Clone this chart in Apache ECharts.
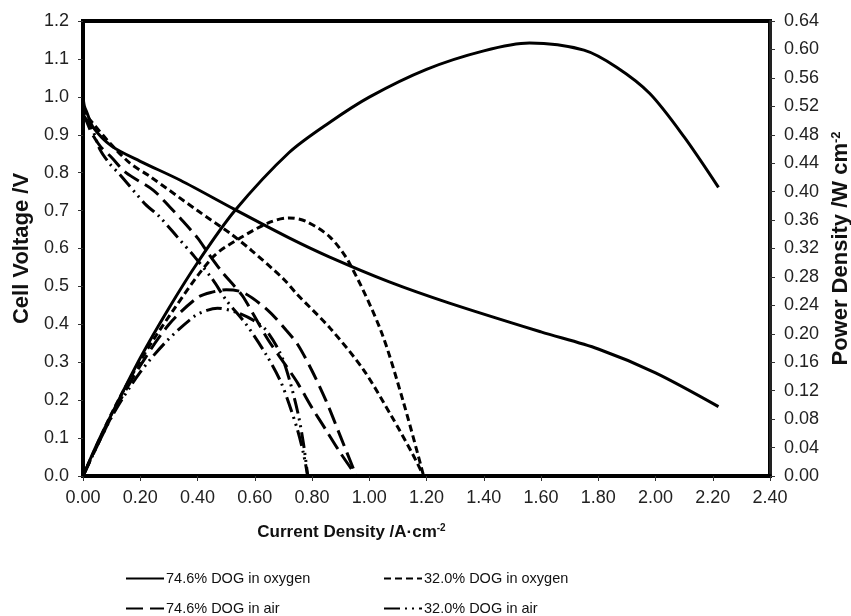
<!DOCTYPE html>
<html lang="en">
<head>
<meta charset="UTF-8">
<title>DOG fuel cell polarization</title>
<script src="https://cdn.jsdelivr.net/npm/echarts@6/dist/echarts.min.js"></script>
<style>
  html, body { margin: 0; padding: 0; background: #fff; }
  #main { width: 851px; height: 616px; }
</style>
</head>
<body>
<div id="main"></div>
<script>
// 74.6% DOG in oxygen
var o1J = [0, 0.005, 0.013, 0.035, 0.1, 0.2, 0.34, 0.53, 0.72, 0.86, 1.07, 1.28, 1.6, 1.8, 2.0, 2.22];
var o1V = [1.0, 0.975, 0.96, 0.92, 0.87, 0.83, 0.78, 0.703, 0.628, 0.578, 0.512, 0.456, 0.38, 0.335, 0.272, 0.183];
var o1PJ = [0, 0.05, 0.1, 0.2, 0.3, 0.4, 0.53, 0.72, 0.86, 1.0, 1.2, 1.4, 1.56, 1.75, 1.864, 1.98, 2.1, 2.22];
var o1P = [0, 0.046, 0.087, 0.166, 0.236, 0.30, 0.373, 0.455, 0.497, 0.533, 0.572, 0.598, 0.609, 0.599, 0.575, 0.538, 0.477, 0.406];

// 32.0% DOG in oxygen
var o2J = [0, 0.01, 0.024, 0.094, 0.164, 0.234, 0.4, 0.514, 0.587, 0.70, 0.747, 0.863, 0.98, 1.08, 1.15, 1.19];
var o2V = [0.97, 0.955, 0.94, 0.878, 0.825, 0.79, 0.70, 0.64, 0.596, 0.52, 0.48, 0.39, 0.28, 0.155, 0.06, 0];
var o2PJ = [0, 0.1, 0.2, 0.315, 0.454, 0.55, 0.653, 0.72, 0.78, 0.863, 0.93, 1.04, 1.12, 1.19];
var o2P = [0, 0.088, 0.162, 0.233, 0.308, 0.335, 0.357, 0.363, 0.358, 0.336, 0.30, 0.205, 0.103, 0];

// 74.6% DOG in air
var a1J = [0, 0.01, 0.03, 0.06, 0.1, 0.15, 0.245, 0.304, 0.34, 0.40, 0.437, 0.486, 0.53, 0.56, 0.646, 0.71, 0.75, 0.80, 0.85, 0.9, 0.955];
var a1V = [0.955, 0.94, 0.905, 0.87, 0.84, 0.80, 0.754, 0.709, 0.68, 0.628, 0.588, 0.538, 0.50, 0.472, 0.36, 0.29, 0.245, 0.18, 0.12, 0.06, 0];
var a1PJ = [0, 0.1, 0.2, 0.3, 0.4, 0.455, 0.5, 0.56, 0.646, 0.71, 0.75, 0.80, 0.85, 0.9, 0.955];
var a1P = [0, 0.084, 0.155, 0.213, 0.251, 0.259, 0.262, 0.258, 0.233, 0.205, 0.185, 0.148, 0.105, 0.055, 0];

// 32.0% DOG in air
var a2J = [0, 0.017, 0.035, 0.06, 0.094, 0.13, 0.22, 0.262, 0.33, 0.39, 0.454, 0.5, 0.57, 0.64, 0.69, 0.72, 0.75, 0.77, 0.785];
var a2V = [0.95, 0.935, 0.91, 0.86, 0.823, 0.794, 0.715, 0.688, 0.63, 0.578, 0.517, 0.464, 0.40, 0.32, 0.25, 0.19, 0.12, 0.06, 0];
var a2PJ = [0, 0.1, 0.2, 0.293, 0.39, 0.433, 0.47, 0.537, 0.6, 0.64, 0.69, 0.72, 0.75, 0.77, 0.785];
var a2P = [0, 0.083, 0.146, 0.19, 0.225, 0.233, 0.236, 0.23, 0.218, 0.205, 0.172, 0.137, 0.09, 0.046, 0];

var names = ['74.6% DOG in oxygen', '32.0% DOG in oxygen', '74.6% DOG in air', '32.0% DOG in air'];

function pairs(xs, ys) {
    return xs.map(function (x, i) { return [x, ys[i]]; });
}

var dashes = {
    solid: 'solid',
    shortDash: [7, 4],
    longDash: [17, 7],
    dashDotDot: [16, 5, 2, 5, 2, 5]
};

function curve(name, xs, ys, axis, type) {
    return {
        name: name,
        type: 'line',
        yAxisIndex: axis,
        data: pairs(xs, ys),
        showSymbol: false,
        symbol: 'none',
        smooth: 0.3,
        lineStyle: { color: '#000', width: 3, type: type },
        itemStyle: { color: '#000' },
        z: 3
    };
}

var fam = 'Liberation Sans, Arial, sans-serif';
var labelFont = { fontFamily: fam, fontSize: 18, color: '#222' };
var nameFont = { fontFamily: fam, fontSize: 22, fontWeight: 'bold', color: '#111' };
var supFont = { fontFamily: fam, fontSize: 13, fontWeight: 'bold', color: '#111', verticalAlign: 'top', padding: [0, 0, 10, 0] };
var xNameFont = { fontFamily: fam, fontSize: 17, fontWeight: 'bold', color: '#111' };
var xSupFont = { fontFamily: fam, fontSize: 10, fontWeight: 'bold', color: '#111', verticalAlign: 'top', padding: [0, 0, 8, 0] };

// one legend per entry, placed as the 2x2 block under the axis title
var legendSpots = [[125, 571], [383, 571], [125, 601], [383, 601]];
var legends = names.map(function (n, i) {
    return {
        left: legendSpots[i][0], top: legendSpots[i][1], padding: 0,
        itemWidth: 38, itemHeight: 14,
        data: [n],
        itemStyle: { opacity: 0 },
        textStyle: { fontFamily: fam, fontSize: 14.5, color: '#111', padding: [0, 0, 0, -3] }
    };
});

var option = {
    animation: false,
    backgroundColor: '#fff',
    grid: {
        left: 83, right: 81, top: 21, bottom: 140,
        outerBoundsMode: 'none',
        show: true, borderColor: '#000', borderWidth: 4
    },
    legend: legends,
    xAxis: {
        type: 'value', min: 0, max: 2.4, interval: 0.2,
        axisLine: { lineStyle: { color: '#000', width: 4 } },
        axisTick: { show: true, length: 5, lineStyle: { color: '#333', width: 1 } },
        axisLabel: Object.assign({ margin: 13, formatter: function (v) { return v.toFixed(2); } }, labelFont),
        splitLine: { show: false },
        name: '{a|Current Density /A·cm}{s|-2}',
        nameLocation: 'middle',
        nameGap: 47,
        nameTextStyle: {
            padding: [0, 150, 0, 0],
            rich: { a: xNameFont, s: xSupFont }
        }
    },
    yAxis: [
        {
            type: 'value', min: 0, max: 1.2, interval: 0.1,
            axisLine: { lineStyle: { color: '#000', width: 4 } },
            axisTick: { show: true, length: 5, lineStyle: { color: '#333', width: 1 } },
            axisLabel: Object.assign({ margin: 14, formatter: function (v) { return v.toFixed(1); } }, labelFont),
            splitLine: { show: false },
            name: 'Cell Voltage /V',
            nameLocation: 'middle',
            nameRotate: 90,
            nameGap: 50,
            nameTextStyle: nameFont
        },
        {
            type: 'value', min: 0, max: 0.64, interval: 0.04,
            position: 'right',
            axisLine: { show: true, lineStyle: { color: '#222', width: 3 } },
            axisTick: { show: true, length: 5, lineStyle: { color: '#333', width: 1 } },
            axisLabel: Object.assign({ margin: 14, formatter: function (v) { return v.toFixed(2); } }, labelFont),
            splitLine: { show: false },
            name: '{a|Power Density /W cm}{s|-2}',
            nameLocation: 'middle',
            nameRotate: 90,
            nameGap: 59,
            nameTextStyle: { rich: { a: nameFont, s: supFont } }
        }
    ],
    series: [
        curve(names[0], o1J, o1V, 0, dashes.solid),
        curve(names[0], o1PJ, o1P, 1, dashes.solid),
        curve(names[1], o2J, o2V, 0, dashes.shortDash),
        curve(names[1], o2PJ, o2P, 1, dashes.shortDash),
        curve(names[2], a1J, a1V, 0, dashes.longDash),
        curve(names[2], a1PJ, a1P, 1, dashes.longDash),
        curve(names[3], a2J, a2V, 0, dashes.dashDotDot),
        curve(names[3], a2PJ, a2P, 1, dashes.dashDotDot)
    ]
};

var myChart = echarts.init(document.getElementById('main'), null, { renderer: 'canvas' });
myChart.setOption(option);
</script>
</body>
</html>
